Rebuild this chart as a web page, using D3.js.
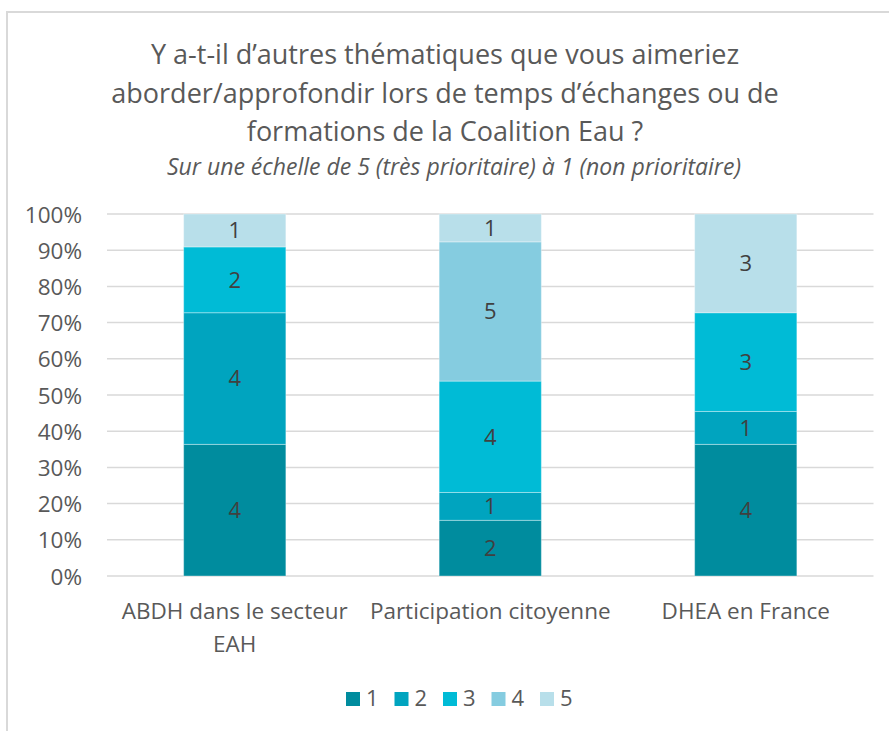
<!DOCTYPE html>
<html>
<head>
<meta charset="utf-8">
<script src="https://cdn.jsdelivr.net/npm/d3@7"></script>
<style>
  body { margin: 0; background: #fff; }
  svg text { font-family: "Open Sans", "Noto Sans", sans-serif; }
</style>
</head>
<body>
<div id="okvir"></div>
<script>
const categories = [["ABDH dans le secteur", "EAH"], ["Participation citoyenne"], ["DHEA en France"]];
const seriesNames = ["1", "2", "3", "4", "5"];
const serie1 = [4, 2, 4];
const serie2 = [4, 1, 1];
const serie3 = [2, 4, 3];
const serie4 = [0, 5, 0];
const serie5 = [1, 1, 3];
const yTicks = [0, 0.1, 0.2, 0.3, 0.4, 0.5, 0.6, 0.7, 0.8, 0.9, 1];
const boje = ["#008c9e", "#00a4bf", "#00bbd6", "#85cce0", "#b8dfea"];

function crtaj() {
  const sirina = 889, visina = 731;
  const margine = { top: 214, left: 107, right: 15.5, bottom: 155 };
  const grDno = visina - margine.bottom;

  const sveSerije = [serie1, serie2, serie3, serie4, serie5];
  const podaci = categories.map((c, i) => {
    const red = { kat: i };
    const ukupno = d3.sum(sveSerije, s => s[i]);
    seriesNames.forEach((n, j) => { red[n] = sveSerije[j][i] / ukupno; red["n" + n] = sveSerije[j][i]; });
    return red;
  });
  const stack = d3.stack().keys(seriesNames)(podaci);

  const svg = d3.select("#okvir").append("svg")
    .attr("width", sirina).attr("height", visina);

  // okvir grafa
  svg.append("rect")
    .attr("x", 7).attr("y", 12).attr("width", 1000).attr("height", 1000)
    .attr("fill", "none").attr("stroke", "#d9d9d9").attr("stroke-width", 2);

  const xSkala = d3.scaleBand()
    .domain(d3.range(categories.length))
    .range([margine.left, sirina - margine.right])
    .paddingInner(0.6).paddingOuter(0.3);

  const ySkala = d3.scaleLinear().domain([0, 1]).range([grDno, margine.top]);

  // mreza
  svg.append("g").selectAll("line").data(yTicks).join("line")
    .attr("x1", margine.left).attr("x2", sirina - margine.right)
    .attr("y1", d => ySkala(d)).attr("y2", d => ySkala(d))
    .attr("stroke", "#d9d9d9").attr("stroke-width", 1.5);

  const osY = svg.append("g")
    .attr("transform", `translate(${margine.left - 25},0)`)
    .call(d3.axisLeft(ySkala).tickValues(yTicks).tickFormat(d3.format(".0%")).tickSize(0).tickPadding(0));
  osY.select(".domain").remove();
  osY.selectAll("text").attr("fill", "#595959").style("font-size", "22.5px").attr("dy", "0.36em");

  // stupci
  const grupe = svg.append("g").selectAll("g").data(stack).join("g")
    .attr("fill", (d, i) => boje[i]);
  grupe.selectAll("rect").data(d => d).join("rect")
    .attr("x", d => xSkala(d.data.kat))
    .attr("y", d => ySkala(d[1]))
    .attr("width", xSkala.bandwidth())
    .attr("height", d => ySkala(d[0]) - ySkala(d[1]))
    .attr("stroke", "rgba(255,255,255,0.35)").attr("stroke-width", 1);

  // oznake
  stack.forEach(s => {
    svg.append("g").selectAll("text").data(s.filter(d => d[1] - d[0] > 0)).join("text")
      .attr("x", d => xSkala(d.data.kat) + xSkala.bandwidth() / 2)
      .attr("y", d => (ySkala(d[0]) + ySkala(d[1])) / 2)
      .attr("dy", "0.36em")
      .attr("text-anchor", "middle")
      .attr("fill", "#404040")
      .style("font-size", "22px")
      .text(d => d.data["n" + s.key]);
  });

  // kategorije
  const kat = svg.append("g").selectAll("text").data(categories).join("text")
    .attr("x", (d, i) => xSkala(i) + xSkala.bandwidth() / 2)
    .attr("y", grDno + 43)
    .attr("text-anchor", "middle")
    .attr("fill", "#595959")
    .style("font-size", "22.5px");
  kat.selectAll("tspan").data(d => d).join("tspan")
    .attr("x", function () { return this.parentNode.getAttribute("x"); })
    .attr("dy", (d, i) => i === 0 ? 0 : 33)
    .text(d => d);

  // naslov
  const naslov = ["Y a-t-il d\u2019autres th\u00e9matiques que vous aimeriez",
    "aborder/approfondir lors de temps d\u2019\u00e9changes ou de",
    "formations de la Coalition Eau ?"];
  svg.append("g").selectAll("text").data(naslov).join("text")
    .attr("x", 445).attr("y", (d, i) => 64 + i * 38.5)
    .attr("text-anchor", "middle")
    .attr("fill", "#595959")
    .style("font-size", "27px")
    .text(d => d);
  svg.append("text")
    .attr("x", 454).attr("y", 175)
    .attr("text-anchor", "middle")
    .attr("fill", "#595959")
    .style("font-size", "23px").style("font-style", "italic")
    .text("Sur une \u00e9chelle de 5 (tr\u00e8s prioritaire) \u00e0 1 (non prioritaire)");

  // legenda
  const leg = svg.append("g").selectAll("g").data(seriesNames).join("g")
    .attr("transform", (d, i) => `translate(${346 + i * 48.5},692)`);
  leg.append("rect").attr("width", 14).attr("height", 14).attr("fill", (d, i) => boje[i]);
  leg.append("text").attr("x", 20).attr("y", 14)
    .attr("fill", "#595959").style("font-size", "22px").text(d => d);
}
crtaj();
</script>
</body>
</html>
